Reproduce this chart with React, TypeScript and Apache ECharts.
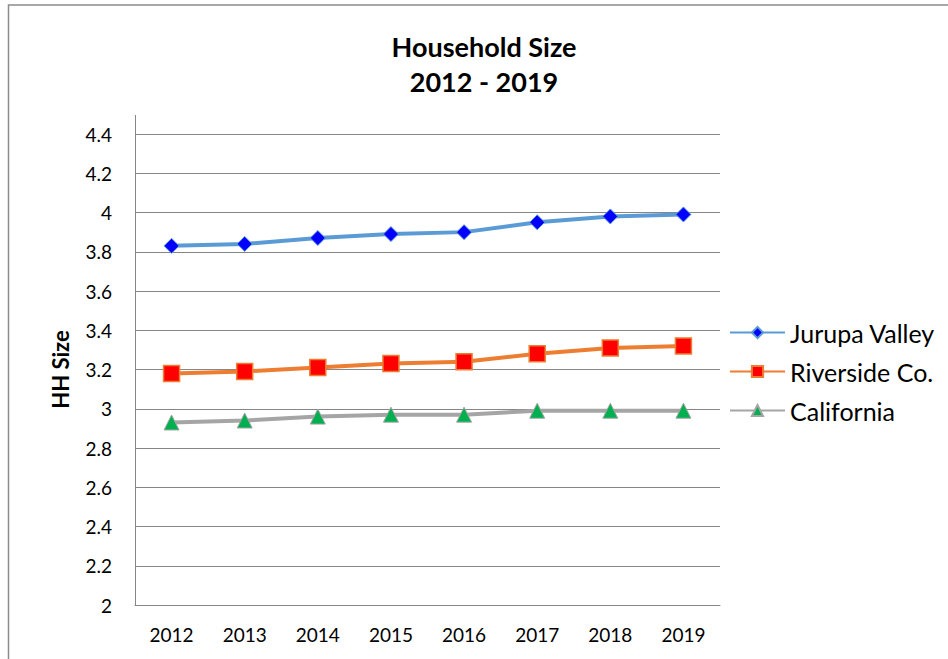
import React, { useEffect, useRef } from "react";
import * as echarts from "echarts";

const years = ["2012", "2013", "2014", "2015", "2016", "2017", "2018", "2019"];
const jurupaValley = [3.83, 3.84, 3.87, 3.89, 3.9, 3.95, 3.98, 3.99];
const riversideCo = [3.18, 3.19, 3.21, 3.23, 3.24, 3.28, 3.31, 3.32];
const california = [2.93, 2.94, 2.96, 2.97, 2.97, 2.99, 2.99, 2.99];

const FONT = "Lato, 'Liberation Sans', sans-serif";

export default function App() {
  const ref = useRef<HTMLDivElement>(null);
  useEffect(() => {
    if (!ref.current) return;
    const chart = echarts.init(ref.current, null, { renderer: "svg" });
    chart.setOption({
      animation: false,
      backgroundColor: "#ffffff",
      textStyle: { fontFamily: FONT },
      title: {
        text: "Household Size\n2012 - 2019",
        left: 484,
        top: 29,
        padding: 0,
        textAlign: "center",
        textStyle: {
          fontFamily: FONT,
          fontWeight: "bold",
          fontSize: 27,
          lineHeight: 35,
          color: "#000",
        },
      },
      legend: {
        orient: "vertical",
        left: 729,
        top: 320,
        padding: 0,
        itemWidth: 55,
        itemHeight: 14,
        itemGap: 14,
        textStyle: { fontFamily: FONT, fontSize: 25, lineHeight: 25, color: "#000" },
        data: ["Jurupa Valley", "Riverside Co.", "California"],
      },
      grid: { left: 135, right: 228, top: 134, bottom: 54 },
      xAxis: {
        type: "category",
        data: years,
        boundaryGap: true,
        axisLine: { lineStyle: { color: "#868686", width: 1 } },
        axisTick: { show: false },
        axisLabel: { color: "#000", fontSize: 19, fontFamily: FONT, margin: 20 },
        splitLine: { show: false },
      },
      yAxis: {
        type: "value",
        min: 2,
        max: 4.4,
        interval: 0.2,
        name: "HH Size",
        nameLocation: "middle",
        nameRotate: 90,
        nameGap: 64,
        nameTextStyle: { fontFamily: FONT, fontWeight: "bold", fontSize: 22, color: "#000" },
        axisLine: { show: true, lineStyle: { color: "#868686", width: 1 } },
        axisTick: { show: false },
        axisLabel: {
          color: "#000",
          fontSize: 19,
          fontFamily: FONT,
          margin: 23,
          formatter: (v: number) => String(Math.round(v * 10) / 10),
        },
        splitLine: { show: true, lineStyle: { color: "#868686", width: 1 } },
      },
      graphic: [
        {
          type: "rect",
          shape: { x: 8.5, y: 5, width: 960, height: 700 },
          style: { fill: "none", stroke: "#8c8c8c", lineWidth: 1.5 },
          silent: true,
        },
        {
          type: "line",
          shape: { x1: 135.5, y1: 115, x2: 135.5, y2: 134 },
          style: { stroke: "#868686", lineWidth: 1 },
          silent: true,
        },
      ],
      series: [
        {
          name: "Jurupa Valley",
          type: "line",
          data: jurupaValley,
          symbol: "diamond",
          symbolSize: 15,
          lineStyle: { color: "#5B9BD5", width: 4 },
          itemStyle: { color: "#0000FF", borderColor: "#5B9BD5", borderWidth: 1 },
        },
        {
          name: "Riverside Co.",
          type: "line",
          data: riversideCo,
          symbol: "rect",
          symbolSize: 16,
          lineStyle: { color: "#ED7D31", width: 4 },
          itemStyle: { color: "#FF0000", borderColor: "#ED7D31", borderWidth: 1.5 },
        },
        {
          name: "California",
          type: "line",
          data: california,
          symbol: "triangle",
          symbolSize: 15,
          lineStyle: { color: "#A5A5A5", width: 4 },
          itemStyle: { color: "#00B050", borderColor: "#A5A5A5", borderWidth: 1 },
        },
      ],
    });
    return () => chart.dispose();
  }, []);
  return (
    <div
      ref={ref}
      style={{ position: "absolute", left: 0, top: 0, width: 948, height: 659 }}
    />
  );
}
